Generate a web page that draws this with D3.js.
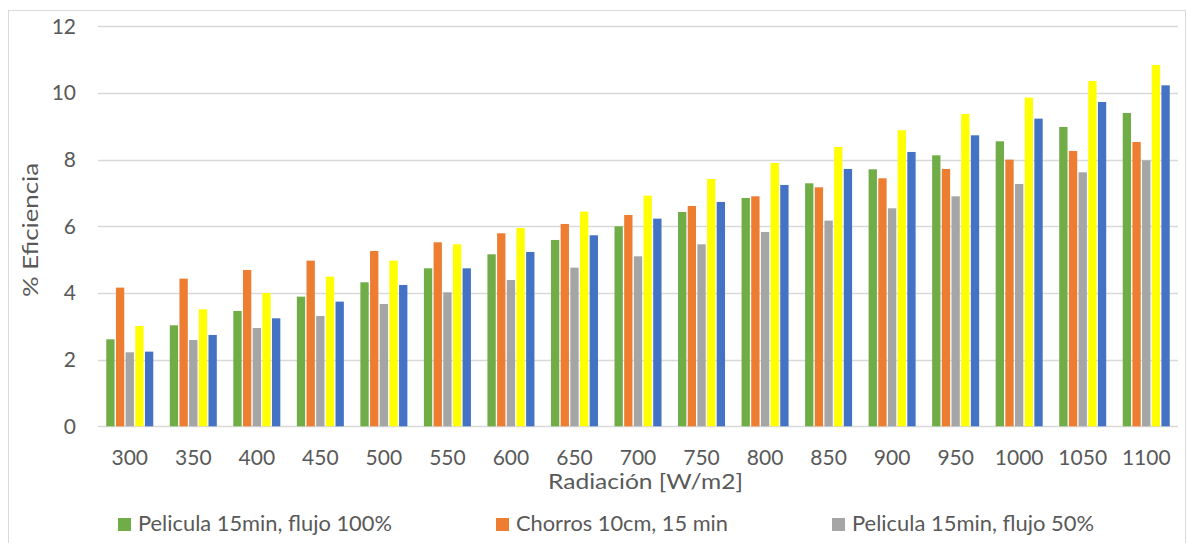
<!DOCTYPE html>
<html>
<head>
<meta charset="utf-8">
<script src="https://cdn.jsdelivr.net/npm/d3@7"></script>
<style>
  html, body { margin: 0; padding: 0; background: #ffffff; }
  svg { display: block; font-family: Lato, "Open Sans", sans-serif; }
</style>
</head>
<body>
<svg id="chart" width="1187" height="543"></svg>
<script>
// Radiation levels on the x axis
const categories = ["300","350","400","450","500","550","600","650","700","750","800","850","900","950","1000","1050","1100"];

// Efficiency (%) per test configuration
const peliculaFlujo100 = [2.61,3.03,3.46,3.89,4.32,4.74,5.16,5.59,6.00,6.43,6.85,7.29,7.71,8.13,8.55,8.98,9.40];
const chorros10cm     = [4.16,4.43,4.69,4.97,5.26,5.52,5.79,6.07,6.34,6.61,6.90,7.17,7.44,7.72,8.00,8.26,8.53];
const peliculaFlujo50 = [2.22,2.59,2.95,3.31,3.67,4.02,4.39,4.76,5.10,5.46,5.83,6.17,6.54,6.90,7.27,7.62,7.98];
const serieAmarilla   = [3.01,3.51,4.00,4.49,4.97,5.46,5.95,6.44,6.92,7.42,7.90,8.38,8.88,9.37,9.86,10.36,10.84];
const serieAzul       = [2.24,2.74,3.24,3.74,4.24,4.74,5.23,5.73,6.23,6.73,7.24,7.72,8.23,8.73,9.23,9.73,10.23];

const seriesValues = [peliculaFlujo100, chorros10cm, peliculaFlujo50, serieAmarilla, serieAzul];
const seriesColors = ["#70AD47", "#ED7D31", "#A5A5A5", "#FFFF00", "#4472C4"];
const legendLabels = ["Pelicula 15min, flujo 100%", "Chorros 10cm, 15 min", "Pelicula 15min, flujo 50%"];

const yTicks = [0, 2, 4, 6, 8, 10, 12];

const svg = d3.select("#chart");
const textColor = "#595959";
const gridColor = "#d9d9d9";
const fontSize = "21px";

// Outer chart frame
svg.append("rect")
  .attr("x", 8.5).attr("y", 10.5)
  .attr("width", 1177).attr("height", 560)
  .attr("fill", "none").attr("stroke", gridColor).attr("stroke-width", 1);

const plot = { left: 98, right: 1178, top: 26.3, bottom: 426.3 };

const x0 = d3.scaleBand()
  .domain(categories)
  .range([plot.left, plot.right])
  .paddingInner(0.26)
  .paddingOuter(0.13);

const x1 = d3.scaleBand()
  .domain(d3.range(seriesValues.length))
  .range([0, x0.bandwidth()])
  .paddingInner(0.14)
  .paddingOuter(0);

const y = d3.scaleLinear().domain([0, 12]).range([plot.bottom, plot.top]);

// Horizontal gridlines
svg.append("g")
  .selectAll("line")
  .data(yTicks)
  .join("line")
  .attr("x1", plot.left).attr("x2", plot.right)
  .attr("y1", d => Math.round(y(d)) + 0.5).attr("y2", d => Math.round(y(d)) + 0.5)
  .attr("stroke", gridColor).attr("stroke-width", d => d === 0 ? 1.5 : 1.3);

// Y axis labels
const yAxis = svg.append("g")
  .attr("transform", `translate(${plot.left - 22},0)`)
  .call(d3.axisLeft(y).tickValues(yTicks).tickSize(0).tickPadding(0));
yAxis.select(".domain").remove();
yAxis.selectAll("text")
  .attr("fill", textColor)
  .style("font-size", fontSize)
  .style("font-family", "Lato, 'Open Sans', sans-serif");

// X axis labels
const xAxis = svg.append("g")
  .attr("transform", `translate(0,${plot.bottom})`)
  .call(d3.axisBottom(x0).tickSize(0));
xAxis.select(".domain").remove();
xAxis.selectAll("text")
  .attr("y", 38.7)
  .attr("dy", null)
  .attr("fill", textColor)
  .style("font-size", fontSize)
  .style("font-family", "Lato, 'Open Sans', sans-serif");

// Bars
const groups = svg.append("g")
  .selectAll("g")
  .data(categories)
  .join("g")
  .attr("transform", d => `translate(${x0(d)},0)`);

groups.selectAll("rect")
  .data((d, i) => seriesValues.map((vals, s) => ({ s, v: vals[i] })))
  .join("rect")
  .attr("x", d => x1(d.s))
  .attr("width", x1.bandwidth())
  .attr("y", d => y(d.v))
  .attr("height", d => y(0) - y(d.v))
  .attr("fill", d => seriesColors[d.s]);

// Axis titles
svg.append("text")
  .attr("x", 645.5)
  .attr("y", 489)
  .attr("text-anchor", "middle")
  .attr("fill", textColor)
  .style("font-size", fontSize)
  .attr("textLength", 195)
  .attr("lengthAdjust", "spacingAndGlyphs")
  .text("Radiación [W/m2]");

svg.append("text")
  .attr("transform", "translate(38,230) rotate(-90)")
  .attr("text-anchor", "middle")
  .attr("fill", textColor)
  .style("font-size", fontSize)
  .attr("textLength", 134)
  .attr("lengthAdjust", "spacingAndGlyphs")
  .text("% Eficiencia");

// Legend
const legendX = [118, 496, 832];
const legendWidths = [254, 212, 242];
const legend = svg.append("g")
  .selectAll("g")
  .data(legendLabels)
  .join("g")
  .attr("transform", (d, i) => `translate(${legendX[i]},518)`);

legend.append("rect")
  .attr("width", 13).attr("height", 13)
  .attr("fill", (d, i) => seriesColors[i]);

legend.append("text")
  .attr("x", 20).attr("y", 13)
  .attr("fill", textColor)
  .style("font-size", fontSize)
  .attr("textLength", (d, i) => legendWidths[i])
  .attr("lengthAdjust", "spacingAndGlyphs")
  .text(d => d);
</script>
</body>
</html>
